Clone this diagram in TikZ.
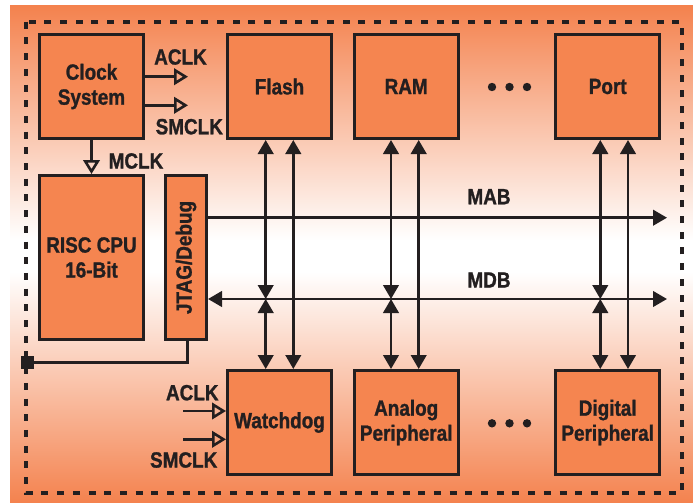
\documentclass[tikz,border=0pt]{standalone}
\usepackage{fontspec}
\usepackage{graphicx}
\setmainfont[FakeStretch=0.86, BoldFeatures={FakeBold=1.2}]{Liberation Sans}
\usetikzlibrary{arrows.meta}
\definecolor{boxor}{RGB}{245,133,80}
\definecolor{bgor}{RGB}{244,130,78}
\definecolor{ink}{RGB}{35,31,32}
\begin{document}
\begin{tikzpicture}[x=1pt,y=-1pt,
  txt/.style={text=ink, font=\bfseries\fontsize{22}{25}\selectfont},
  blk/.style={txt, draw=ink, fill=boxor, line width=3pt, minimum width=104pt, minimum height=104pt, inner sep=0pt, align=center},
  lbl/.style={txt, inner sep=0pt},
  wire/.style={draw=ink, line width=2.6pt},
  bi/.style={wire, {Triangle[length=14pt,width=15.5pt]}-{Triangle[length=14pt,width=15.5pt]}},
  one/.style={wire, -{Triangle[length=14pt,width=15.5pt]}},
  clk/.style={wire, -{Triangle[open,length=14pt,width=16.5pt]}},
]
\useasboundingbox (0,0) rectangle (693,503);
\fill[white] (0,0) rectangle (693,503);
\fill[top color=bgor, bottom color=white] (10,6) rectangle (693,240);
\fill[white] (10,240) rectangle (693,272);
\fill[top color=white, bottom color=bgor] (10,272) rectangle (693,503);
\draw[ink, line width=4.3pt, dash pattern=on 7pt off 8.7pt] (26,21.7) rectangle (682,493);

\node[blk] (clock) at (91.5,86.5) {Clock\\System};
\node[blk] (flash) at (279.5,86.5) {Flash};
\node[blk] (ram) at (406.2,86.5) {RAM};
\node[blk] (port) at (607.7,86.5) {Port};
\node[blk, minimum height=164pt] (cpu) at (91.5,257.5) {RISC CPU\\16-Bit};
\node[blk, minimum width=41pt, minimum height=164pt] (jtag) at (186,257.5) {\rotatebox{90}{JTAG/Debug}};
\node[blk] (wdt) at (279.5,422.5) {Watchdog};
\node[blk] (analog) at (406.2,422.5) {Analog\\Peripheral};
\node[blk] (digital) at (607.7,422.5) {Digital\\Peripheral};

\foreach \x in {492,509.5,527}{
  \fill[ink] (\x,87) circle (4.2pt);
  \fill[ink] (\x,423.3) circle (4.2pt);
}

% buses
\coordinate (mabend) at (667,217.7);
\coordinate (mdbend) at (667,299);
\draw[one] (jtag.east |- mabend) -- (mabend);
\draw[bi] (jtag.east |- mdbend) -- (mdbend);
\node[lbl] (mab) at (489,196.7) {MAB};
\node[lbl] (mdb) at (489,280) {MDB};

% verticals
\draw[bi] ([xshift=-13.8pt]flash.south) -- ([xshift=-13.8pt]flash.south |- mdbend);
\draw[bi] ([xshift=-13.8pt]flash.south |- mdbend) -- ([xshift=-13.8pt]wdt.north);
\draw[bi] ([xshift=13.8pt]flash.south) -- ([xshift=13.8pt]wdt.north);
\draw[bi] ([xshift=-15.2pt]ram.south) -- ([xshift=-15.2pt]ram.south |- mdbend);
\draw[bi] ([xshift=-15.2pt]ram.south |- mdbend) -- ([xshift=-15.2pt]analog.north);
\draw[bi] ([xshift=12.5pt]ram.south) -- ([xshift=12.5pt]analog.north);
\draw[bi] ([xshift=-7.4pt]port.south) -- ([xshift=-7.4pt]port.south |- mdbend);
\draw[bi] ([xshift=-7.4pt]port.south |- mdbend) -- ([xshift=-7.4pt]digital.north);
\draw[bi] ([xshift=20.3pt]port.south) -- ([xshift=20.3pt]digital.north);

% clocks from clock system
\coordinate (aclkend) at (188,76.7);
\coordinate (smclkend) at (188,105.3);
\draw[clk] (clock.east |- aclkend) -- (aclkend);
\draw[clk] (clock.east |- smclkend) -- (smclkend);
\node[lbl] (aclk1) at (180.5,57) {ACLK};
\node[lbl] (smclk1) at (189.3,126.7) {SMCLK};
\draw[clk] (clock.south) -- (cpu.north);
\node[lbl] (mclk) at (136,161) {MCLK};

% jtag to pin
\node[fill=ink, minimum size=13pt, inner sep=0pt] (pin) at (27.5,362.5) {};
\draw[wire, line width=2.4pt] ([xshift=1.3pt]jtag.south) |- (pin);

% watchdog clocks
\coordinate (aclkin) at (183,411);
\coordinate (smclkin) at (183,439.3);
\draw[clk] (aclkin) -- (wdt.west |- aclkin);
\draw[clk] (smclkin) -- (wdt.west |- smclkin);
\node[lbl] (aclk2) at (192.3,392.7) {ACLK};
\node[lbl] (smclk2) at (183.7,460) {SMCLK};
\end{tikzpicture}
\end{document}
